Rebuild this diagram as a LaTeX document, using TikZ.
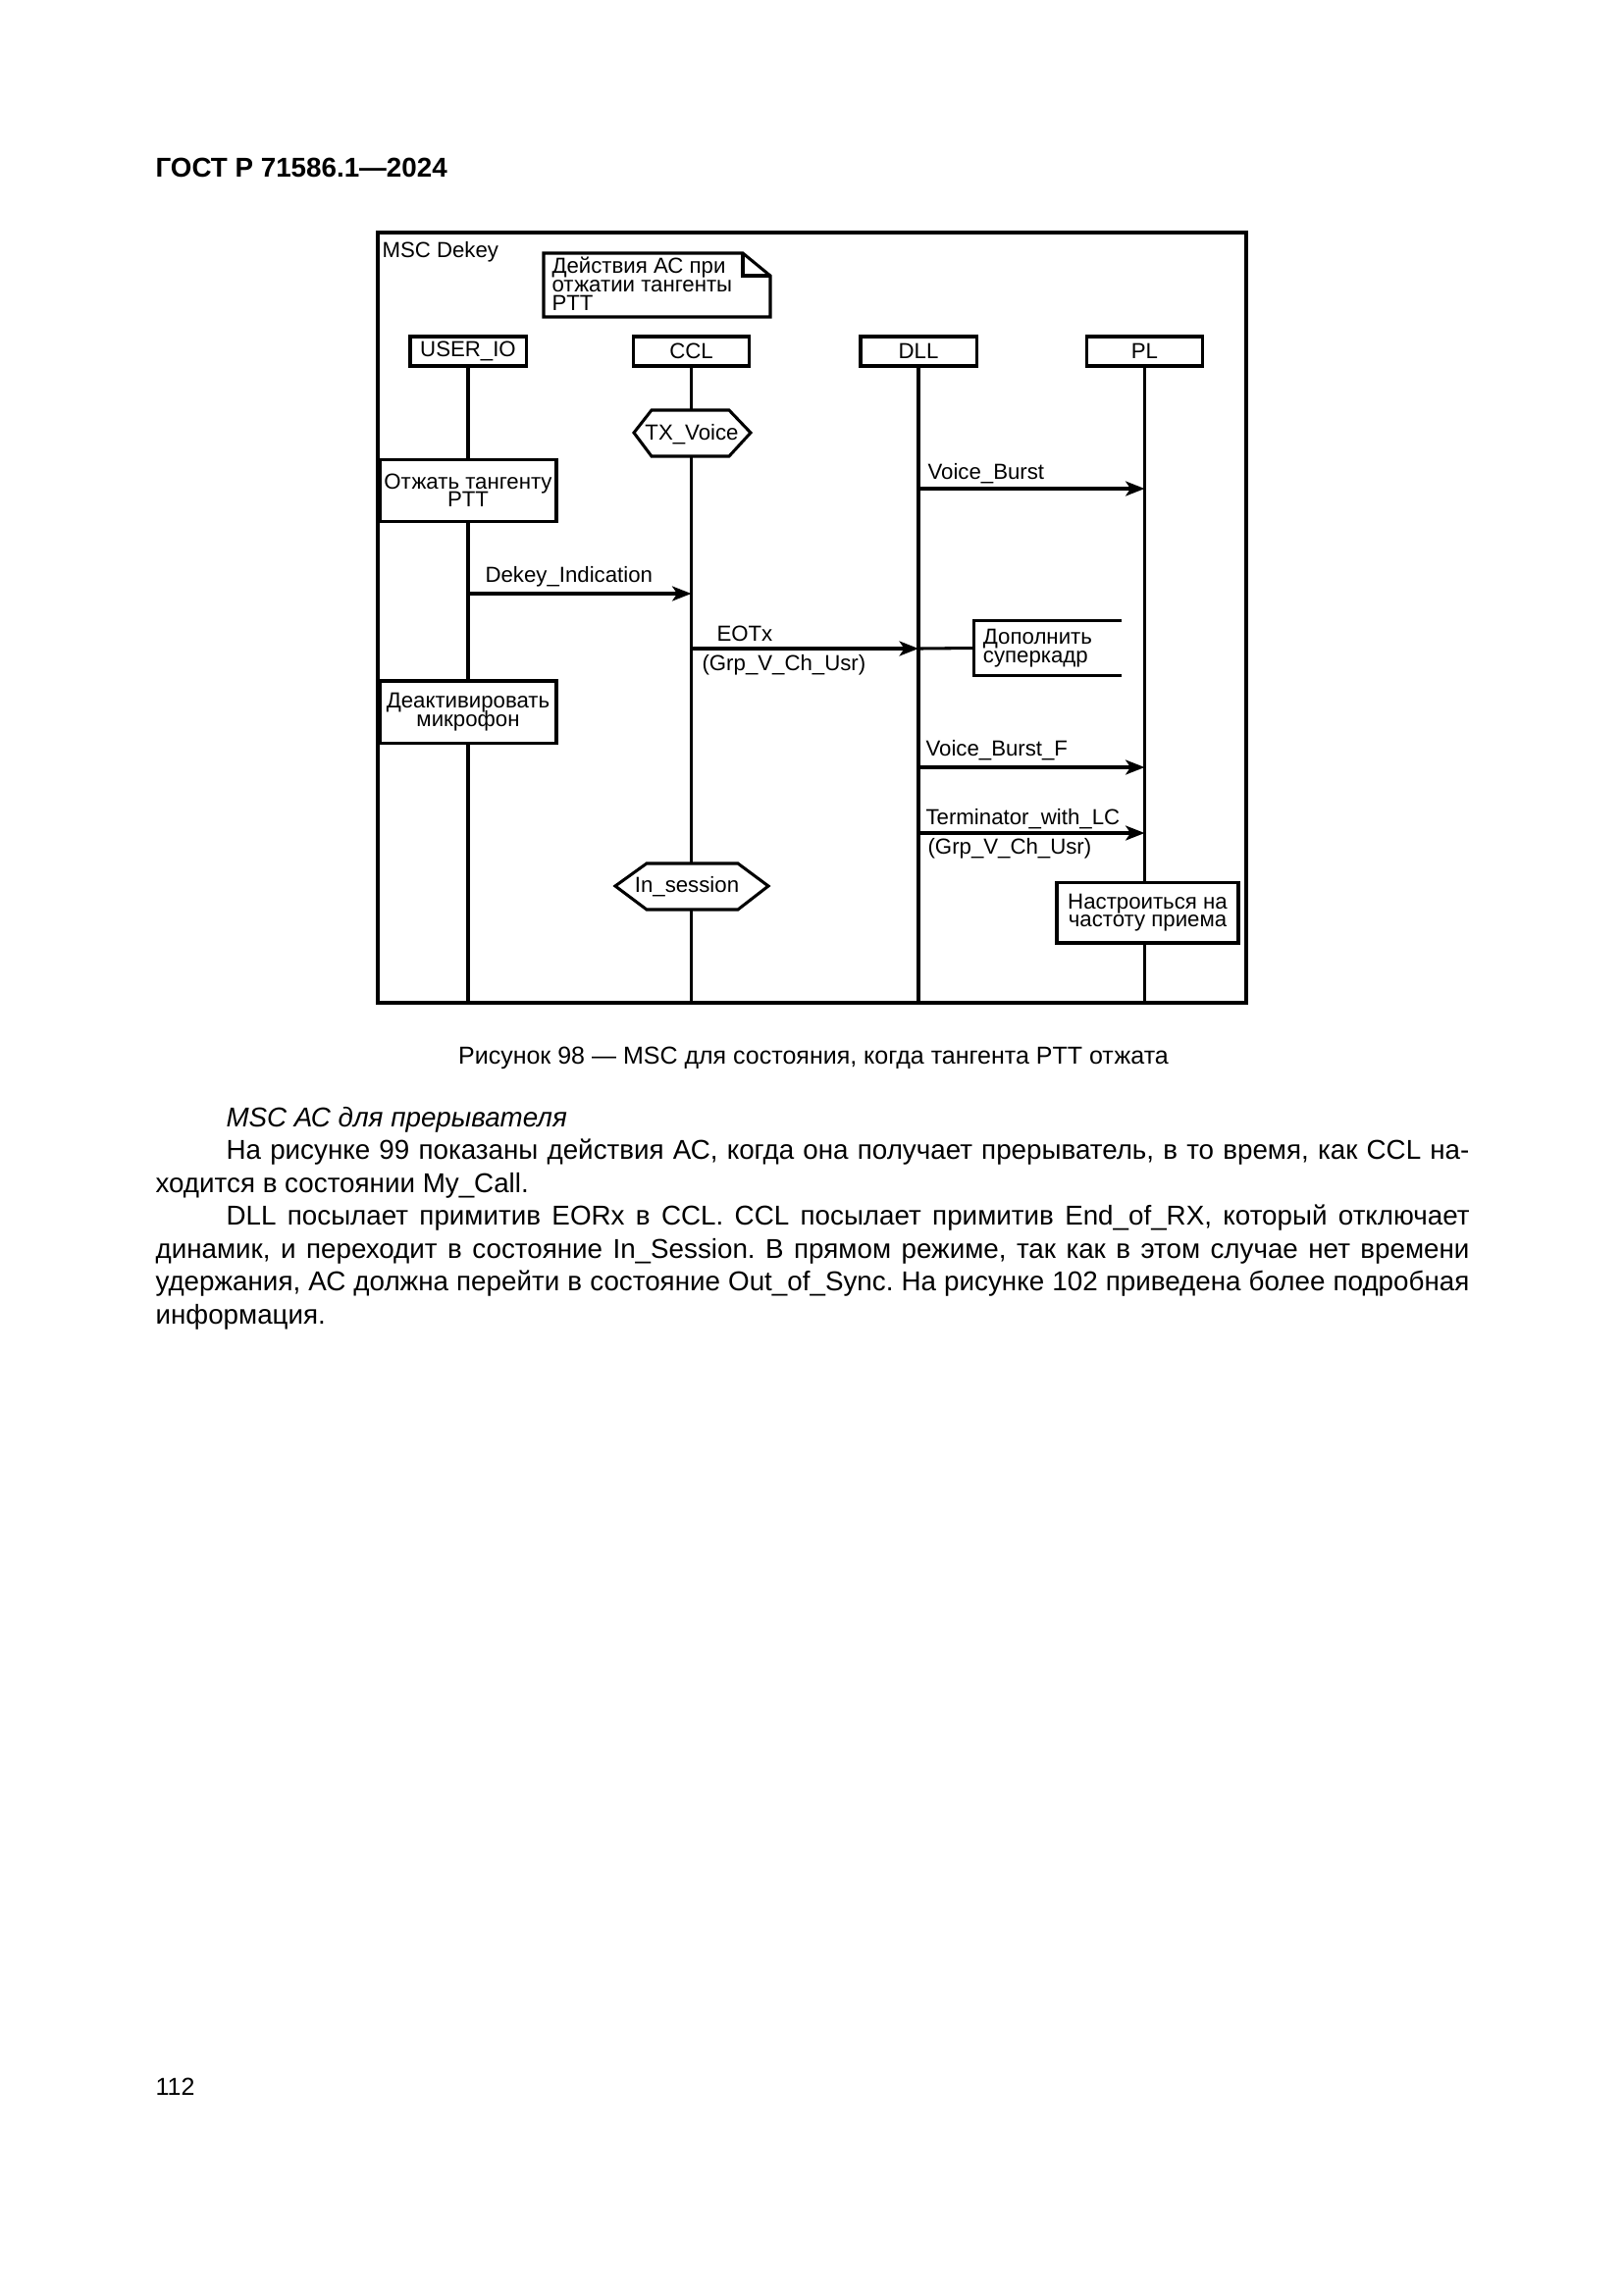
\documentclass[tikz,border=0pt]{standalone}
\usepackage{fontspec}
\setmainfont{Liberation Sans}
\usetikzlibrary{arrows.meta}
\frenchspacing
\newcommand\tightls{\lineskiplimit=-8pt\relax}
\begin{document}
\begin{tikzpicture}[x=0.36pt,y=-0.36pt,
  ln/.style={line width=1.1pt},
  head/.style={draw, line width=1.1pt, fill=white, minimum width=42.5pt, minimum height=10.8pt, inner sep=0pt, font=\fontsize{8}{8}\selectfont},
  act/.style={draw, line width=1.1pt, fill=white, inner sep=0pt, align=center, font={\fontsize{8}{6.6}\selectfont\tightls}},
  msg/.style={line width=1.1pt, -{Stealth[length=7pt,width=5.4pt,inset=1.8pt]}},
  lbl/.style={inner sep=0pt, anchor=base west, font=\fontsize{8}{8}\selectfont},
  body/.style={inner sep=0pt, anchor=base west, font=\fontsize{10}{12}\selectfont},
]
\useasboundingbox[fill=white] (0,0) rectangle (1654,2339);

% header
\node[body, font=\fontsize{10}{12}\selectfont\bfseries] (hdr) at (158,180) {ГОСТ Р 71586.1—2024};

% frame
\draw[line width=1.2pt] (385,237) rectangle (1270,1022);
\node[lbl] (title) at (389,262) {MSC Dekey};
\coordinate (bot) at (0,1022);

% note
\draw[ln, fill=white] (554,258) -- (757,258) -- (785,281) -- (785,323) -- (554,323) -- cycle;
\draw[ln] (757,258) -- (757,281) -- (785,281);
\node[inner sep=0pt, anchor=north west, align=left, font={\fontsize{8}{6.9}\selectfont\tightls}] (note) at (562,261) {Действия АС при\\отжатии тангенты\\PTT};

% instance heads
\node[head] (uio) at (477,358) {USER\_IO};
\node[head] (ccl) at (704.5,358) {CCL};
\node[head] (dll) at (936,358) {DLL};
\node[head] (pl) at (1166.5,358) {PL};

% lifelines
\draw[ln] (uio.south) -- (uio.south |- bot);
\draw[ln] (ccl.south) -- (ccl.south |- bot);
\draw[ln] (dll.south) -- (dll.south |- bot);
\draw[ln] (pl.south) -- (pl.south |- bot);

% conditions (hexagons)
\draw[ln, fill=white] (646,441) -- (664,418) -- (743,418) -- (765,441) -- (743,465) -- (664,465) -- cycle;
\node[lbl, anchor=base] (txv) at (705,448) {TX\_Voice};
\draw[ln, fill=white] (627,903) -- (659,880) -- (752,880) -- (783,903) -- (752,927) -- (659,927) -- cycle;
\node[lbl, anchor=base] (ins) at (700,909) {In\_session};

% actions
\node[act, minimum width=64.8pt, minimum height=23pt] (otz) at (477,500) {Отжать тангенту\\PTT};
\node[act, minimum width=64.8pt, minimum height=22.7pt] (deak) at (477,725.5) {Деактивировать\\микрофон};
\node[act, minimum width=66.6pt, minimum height=22.3pt] (nastr) at (1169.5,930) {Настроиться на\\частоту приема};

% open action box
\node[inner xsep=3.2pt, inner ysep=0pt, text width=47.2pt, minimum height=19.8pt, align=left, font={\fontsize{8}{6.8}\selectfont\tightls}] (dop) at (1067.5,660.5) {Дополнить\\суперкадр};
\draw[ln] (dop.north east) -- (dop.north west) -- (dop.south west) -- (dop.south east);

% message levels
\coordinate (y1) at (0,498);
\coordinate (y2) at (0,605);
\coordinate (y3) at (0,661);
\coordinate (y4) at (0,782);
\coordinate (y5) at (0,849);

% messages
\draw[msg] (dll.south |- y1) -- (pl.south |- y1);
\node[lbl] (m1) at (945,488) {Voice\_Burst};

\draw[msg] (uio.south |- y2) -- (ccl.south |- y2);
\node[lbl] (m2) at (494,593) {Dekey\_Indication};

\draw[msg] (ccl.south |- y3) -- (dll.south |- y3);
\node[lbl] (m3) at (730,653) {EOTx};
\node[lbl] (m3b) at (715,683) {(Grp\_V\_Ch\_Usr)};
\draw[ln] (dll.south |- y3) -- (dop.west);

\draw[msg] (dll.south |- y4) -- (pl.south |- y4);
\node[lbl] (m4) at (943,770) {Voice\_Burst\_F};

\draw[msg] (dll.south |- y5) -- (pl.south |- y5);
\node[lbl] (m5) at (943,840) {Terminator\_with\_LC};
\node[lbl] (m5b) at (945,870) {(Grp\_V\_Ch\_Usr)};

% caption
\node[inner sep=0pt, anchor=base, font=\fontsize{9}{11}\selectfont] (cap) at (829,1084) {Рисунок 98 — MSC для состояния, когда тангента PTT отжата};

% body text
\node[body] (l1) at (230,1148) {\itshape MSC АС для прерывателя};
\node[body] (l2) at (230,1181.5) {\makebox[456.1pt][s]{На рисунке 99 показаны действия АС, когда она получает прерыватель, в то время, как CCL на-}};
\node[body] (l3) at (158,1215) {ходится в состоянии My\_Call.};
\node[body] (l4) at (230,1248.5) {\makebox[456.1pt][s]{DLL посылает примитив EORx в CCL. CCL посылает примитив End\_of\_RX, который отключает}};
\node[body] (l5) at (158,1282) {\makebox[482pt][s]{динамик, и переходит в состояние In\_Session. В прямом режиме, так как в этом случае нет времени}};
\node[body] (l6) at (158,1315.5) {\makebox[482pt][s]{удержания, АС должна перейти в состояние Out\_of\_Sync. На рисунке 102 приведена более подробная}};
\node[body] (l7) at (158,1349) {информация.};

% page number
\node[inner sep=0pt, anchor=base west, font=\fontsize{9}{11}\selectfont] (pg) at (158,2135) {112};
\end{tikzpicture}
\end{document}
